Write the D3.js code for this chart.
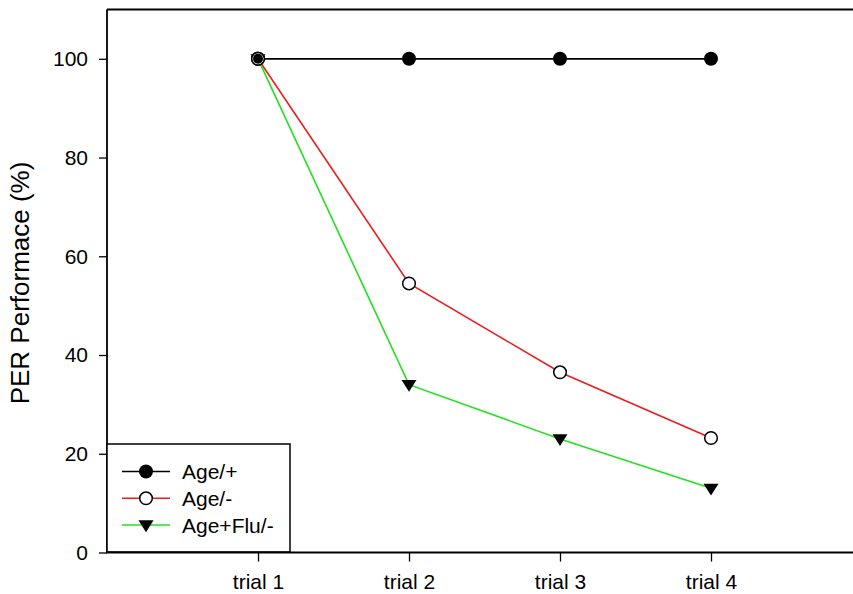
<!DOCTYPE html>
<html>
<head>
<meta charset="utf-8">
<script src="https://cdn.jsdelivr.net/npm/d3@7"></script>
<style>
  html, body { margin: 0; padding: 0; background: #fff; }
  svg { display: block; font-family: Arial, "Liberation Sans", sans-serif; }
</style>
</head>
<body>
<script>
const trials = ["trial 1", "trial 2", "trial 3", "trial 4"];
const ageFedValues = [100, 100, 100, 100];
const ageStarvedValues = [100, 54.5, 36.5, 23.2];
const ageFluValues = [100, 34.0, 23.0, 13.0];
const seriesNames = ["Age/+", "Age/-", "Age+Flu/-"];
const yTicks = [0, 20, 40, 60, 80, 100];
const yLabel = "PER Performace (%)";

const W = 853, H = 594;
const FONT = "Arial, 'Liberation Sans', sans-serif";
const svg = d3.select("body").append("svg").attr("width", W).attr("height", H);

const x = d3.scaleLinear().domain([0, 5]).range([107, 862]);
const y = d3.scaleLinear().domain([0, 100]).range([552.5, 58.8]);
const yTop = 9.5;

const series = [
  { name: seriesNames[0], values: ageFedValues, color: "#000000", marker: "filled" },
  { name: seriesNames[1], values: ageStarvedValues, color: "#ee1c1c", marker: "open" },
  { name: seriesNames[2], values: ageFluValues, color: "#22e022", marker: "tri" }
];

// top frame line
svg.append("line").attr("x1", 107).attr("x2", W + 20).attr("y1", yTop).attr("y2", yTop)
  .attr("stroke", "#000").attr("stroke-width", 1.8);

// Y axis
const yAxis = d3.axisLeft(y).tickValues(yTicks).tickSize(8).tickPadding(11).tickFormat(d3.format("d"));
const gy = svg.append("g").attr("transform", "translate(107,0)").call(yAxis);
gy.select(".domain").remove();
gy.selectAll(".tick line").attr("stroke", "#000").attr("stroke-width", 1.3);
gy.selectAll(".tick text").attr("font-size", 21).attr("fill", "#000").attr("font-family", FONT);
svg.append("line").attr("x1", 107).attr("x2", 107).attr("y1", yTop).attr("y2", y(0))
  .attr("stroke", "#000").attr("stroke-width", 1.8);

// X axis
const xAxis = d3.axisBottom(x).tickValues([1, 2, 3, 4]).tickSize(9).tickPadding(13)
  .tickFormat(d => trials[d - 1]);
const gx = svg.append("g").attr("transform", `translate(0,${y(0)})`).call(xAxis);
gx.select(".domain").remove();
gx.selectAll(".tick line").attr("stroke", "#000").attr("stroke-width", 1.3);
gx.selectAll(".tick text").attr("font-size", 21).attr("fill", "#000").attr("font-family", FONT);

// Y label
svg.append("text")
  .attr("transform", `translate(29,283) rotate(-90)`)
  .attr("text-anchor", "middle")
  .attr("font-size", 26)
  .attr("font-family", FONT)
  .attr("fill", "#000")
  .text(yLabel);

const line = d3.line().x((d, i) => x(i + 1)).y(d => y(d));

function drawMarker(g, type, cx, cy) {
  if (type === "filled") {
    g.append("circle").attr("cx", cx).attr("cy", cy).attr("r", 7).attr("fill", "#000");
  } else if (type === "open") {
    g.append("circle").attr("cx", cx).attr("cy", cy).attr("r", 6.3)
      .attr("fill", "#fff").attr("stroke", "#000").attr("stroke-width", 1.5);
  } else {
    const s = 7.5;
    g.append("path")
      .attr("d", `M${cx - s},${cy - s * 0.62} L${cx + s},${cy - s * 0.62} L${cx},${cy + s * 0.95} Z`)
      .attr("fill", "#000");
  }
}

const order = [series[1], series[2], series[0]];
order.forEach(s => {
  svg.append("path").datum(s.values)
    .attr("d", line).attr("fill", "none")
    .attr("stroke", s.color).attr("stroke-width", s.marker === "filled" ? 1.8 : 1.6);
});
const mg = svg.append("g");
[series[2], series[1], series[0]].forEach(s => {
  s.values.forEach((v, i) => drawMarker(mg, s.marker, x(i + 1), y(v)));
});
drawMarker(mg, "open", x(1), y(ageStarvedValues[0]));
mg.append("circle").attr("cx", x(1)).attr("cy", y(100)).attr("r", 5).attr("fill", "#000");

// Legend
const lg = svg.append("g");
lg.append("rect").attr("x", 107).attr("y", 444).attr("width", 183).attr("height", 108)
  .attr("fill", "#fff").attr("stroke", "#000").attr("stroke-width", 1.5);
const rowY = [471.5, 498.3, 525];
series.forEach((s, i) => {
  lg.append("line").attr("x1", 122).attr("x2", 170).attr("y1", rowY[i]).attr("y2", rowY[i])
    .attr("stroke", s.color).attr("stroke-width", 1.6);
  drawMarker(lg, s.marker, 146, rowY[i]);
  lg.append("text").attr("x", 182).attr("y", rowY[i]).attr("dy", "0.36em")
    .attr("font-size", 21).attr("font-family", FONT).attr("fill", "#000").text(s.name);
});
// bottom axis line on top
svg.append("line").attr("x1", 106).attr("x2", W + 20).attr("y1", y(0)).attr("y2", y(0))
  .attr("stroke", "#000").attr("stroke-width", 2);
</script>
</body>
</html>
